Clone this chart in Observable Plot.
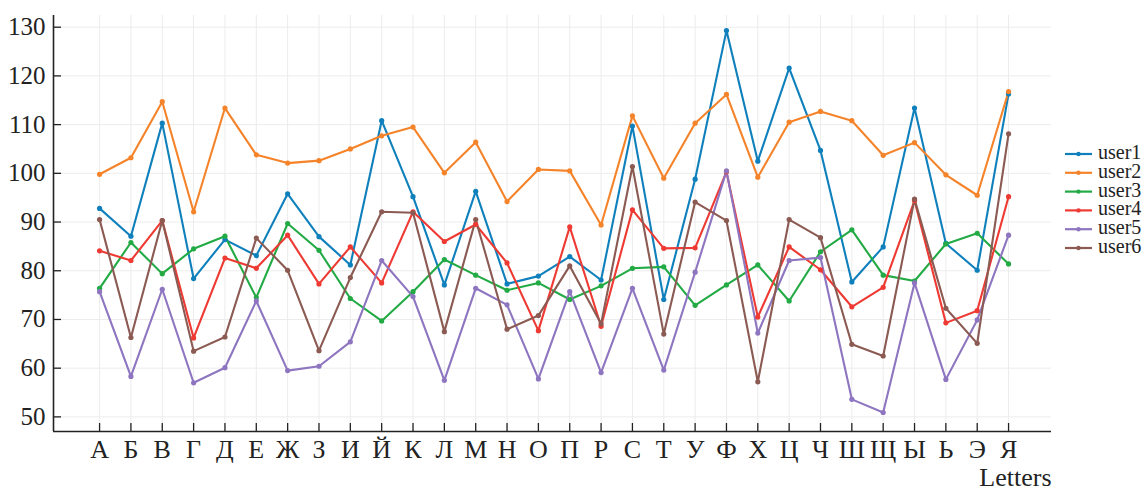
<!DOCTYPE html>
<html>
<head>
<meta charset="utf-8">
<script src="https://cdn.jsdelivr.net/npm/d3@7"></script>
<script src="https://cdn.jsdelivr.net/npm/@observablehq/plot@0.6"></script>
<style>
  html, body { margin: 0; padding: 0; background: #fff; overflow: hidden; }
  #chart { width: 1146px; height: 491px; }
</style>
</head>
<body>
<div id="chart"></div>
<script>
// Categories along the x axis
const letters = ["А","Б","В","Г","Д","Е","Ж","З","И","Й","К","Л","М","Н","О","П","Р","С","Т","У","Ф","Х","Ц","Ч","Ш","Щ","Ы","Ь","Э","Я"];

// Series names and their values, one per letter
const seriesNames = ["user1","user2","user3","user4","user5","user6"];
const user1 = [92.8, 87.1, 110.3, 78.4, 86.4, 83.1, 95.8, 87.0, 81.2, 110.8, 95.2, 77.1, 96.3, 77.3, 78.9, 82.9, 78.1, 109.7, 74.1, 98.8, 129.3, 102.5, 121.6, 104.7, 77.7, 84.9, 113.4, 85.6, 80.1, 116.3];
const user2 = [99.8, 103.2, 114.7, 92.1, 113.4, 103.8, 102.1, 102.6, 105.0, 107.7, 109.5, 100.1, 106.4, 94.2, 100.8, 100.5, 89.4, 111.8, 99.0, 110.3, 116.2, 99.2, 110.5, 112.7, 110.8, 103.7, 106.3, 99.7, 95.5, 116.8];
const user3 = [76.4, 85.8, 79.4, 84.5, 87.1, 74.5, 89.7, 84.2, 74.3, 69.7, 75.7, 82.3, 79.1, 76.0, 77.5, 74.1, 76.9, 80.5, 80.8, 72.9, 77.1, 81.2, 73.8, 83.9, 88.4, 79.1, 77.9, 85.5, 87.7, 81.4];
const user4 = [84.1, 82.1, 90.3, 66.2, 82.6, 80.5, 87.3, 77.3, 84.9, 77.5, 92.1, 86.0, 89.5, 81.6, 67.7, 89.0, 68.6, 92.5, 84.6, 84.7, 100.3, 70.5, 84.9, 80.2, 72.6, 76.6, 94.4, 69.3, 71.8, 95.2];
const user5 = [75.7, 58.3, 76.2, 57.0, 60.1, 73.8, 59.5, 60.4, 65.4, 82.1, 74.7, 57.5, 76.4, 73.0, 57.8, 75.7, 59.1, 76.4, 59.6, 79.7, 100.5, 67.2, 82.1, 82.7, 53.6, 50.9, 77.5, 57.7, 69.9, 87.3];
const user6 = [90.5, 66.3, 90.3, 63.5, 66.4, 86.7, 80.1, 63.6, 78.6, 92.1, 91.9, 67.5, 90.5, 68.0, 70.8, 81.0, 69.1, 101.4, 67.0, 94.1, 90.3, 57.2, 90.5, 86.8, 64.9, 62.5, 94.7, 72.3, 65.1, 108.1];

// Y tick values
const yTicks = [50, 60, 70, 80, 90, 100, 110, 120, 130];

const colors = ["#0f80bc", "#f5832a", "#22aa44", "#ee3a33", "#8e75c0", "#8b5a52"];

const seriesValues = [user1, user2, user3, user4, user5, user6];
const rows = seriesNames.flatMap((name, s) =>
  seriesValues[s].map((v, i) => ({ name, i, v }))
);
const xIdx = d3.range(letters.length);

const xDomain = [-1.47, 30.37];
const yDomain = [47, 132.4];
const serif = "'Liberation Serif', 'Times New Roman', serif";
const axisColor = "#222";

const plot = Plot.plot({
  width: 1146,
  height: 491,
  marginLeft: 53,
  marginRight: 95,
  marginTop: 15,
  marginBottom: 60,
  style: `font-family: ${serif}; background: #fff; color: ${axisColor};`,
  x: { domain: xDomain },
  y: { domain: yDomain },
  color: { domain: seriesNames, range: colors },
  marks: [
    Plot.gridX(xIdx, { stroke: "#ececec", strokeOpacity: 1 }),
    Plot.gridY(yTicks, { stroke: "#ececec", strokeOpacity: 1 }),
    // inward tick marks
    Plot.axisX(xIdx, { tickSize: -8, tickFormat: () => "", label: null, stroke: axisColor, strokeWidth: 1.3 }),
    Plot.axisY(yTicks, { tickSize: -8, tickFormat: () => "", label: null, stroke: axisColor, strokeWidth: 1.3 }),
    // tick labels
    Plot.axisX(xIdx, { tickSize: 0, tickPadding: 8, tickFormat: (i) => letters[i], fontSize: 26, fontFamily: serif, label: null, fill: axisColor }),
    Plot.axisY(yTicks, { tickSize: 0, tickPadding: 8, fontSize: 25, fontFamily: serif, label: null, fill: axisColor }),
    // axis lines
    Plot.ruleX([xDomain[0]], { stroke: axisColor, strokeWidth: 1.6 }),
    Plot.ruleY([yDomain[0]], { stroke: axisColor, strokeWidth: 1.6 }),
    Plot.text(["Letters"], {
      frameAnchor: "bottom-right", textAnchor: "end", lineAnchor: "middle",
      dy: 46, fontSize: 26, fontFamily: serif, fill: axisColor
    }),
    // series
    Plot.line(rows, { x: "i", y: "v", z: "name", stroke: "name", strokeWidth: 2.1 }),
    Plot.dot(rows, { x: "i", y: "v", fill: "name", r: 2.6 })
  ]
});

// Legend on the right side of the plot area
const svg = d3.select(plot);
const legend = svg.append("g");
seriesNames.forEach((name, k) => {
  const yy = 154 + k * 18.8;
  const row = legend.append("g").attr("transform", `translate(1065,${yy})`);
  row.append("line").attr("x1", 0).attr("x2", 27).attr("y1", 0).attr("y2", 0)
    .attr("stroke", colors[k]).attr("stroke-width", 2.2);
  row.append("circle").attr("cx", 13.5).attr("cy", 0).attr("r", 2.2).attr("fill", colors[k]);
  row.append("text").attr("x", 33).attr("y", 0).attr("dy", "0.25em")
    .attr("text-anchor", "start").style("font-size", "20px")
    .attr("fill", axisColor).text(name);
});

// serif face for every label
svg.selectAll("text").style("font-family", serif);

document.getElementById("chart").appendChild(plot);
</script>
</body>
</html>
